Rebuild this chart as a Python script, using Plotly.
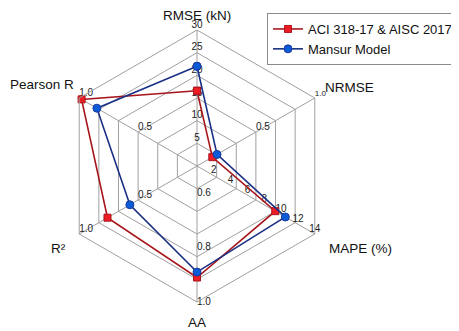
import plotly.graph_objects as go

# axes of the radar, clockwise from the top
categories = ["RMSE (kN)", "NRMSE", "MAPE (%)", "AA", "R²", "Pearson R"]
axis_min = [0, 0, 0, 0.5, 0, 0]
axis_max = [30, 1.0, 14, 1.0, 1.0, 1.0]

# series values
aci_vals = [16.6, 0.13, 9.3, 0.91, 0.76, 0.98]
mansur_vals = [22.0, 0.17, 10.5, 0.89, 0.57, 0.85]

# tick labels drawn along each spoke
rmse_ticks = [5, 10, 15, 20, 25, 30]
nrmse_ticks = [0.5, 1.0]
mape_ticks = [2, 4, 6, 8, 10, 12, 14]
aa_ticks = [0.6, 0.8, 1.0]
r2_ticks = [0.5, 1.0]
pearson_ticks = [0.5, 1.0]

# page has an 8px body margin, so the figure is shrunk and shifted by it
OFF = 8
W, H = 459 - OFF, 331 - OFF
cx, cy, R = 197, 166, 136


def px_x(x):
    return (x - OFF) / W


def px_y(y):
    return 1 - (y - OFF) / H


def norm(i, v):
    return (v - axis_min[i]) / (axis_max[i] - axis_min[i])


fig = go.Figure()
FONT = "Liberation Sans, Arial"

# tick labels (under the series)
def add_ticks(i, ticks, fmt, pos, size=10):
    fig.add_trace(go.Scatterpolar(
        r=[norm(i, t) for t in ticks],
        theta=[categories[i]] * len(ticks),
        mode="text",
        text=[fmt.format(t) for t in ticks],
        textposition=pos,
        textfont=dict(size=size, color="#222222", family=FONT),
        cliponaxis=False, hoverinfo="skip", showlegend=False))

add_ticks(0, rmse_ticks, "{:d}", "top center")
add_ticks(1, nrmse_ticks[:1], "{:.1f}", "top right")
add_ticks(1, nrmse_ticks[1:], "{:.1f}", "top right", size=8)
add_ticks(2, mape_ticks, "{:d}", "top center")
add_ticks(3, aa_ticks, "{:.1f}", "middle right")
add_ticks(4, r2_ticks, "{:.1f}", "top right")
add_ticks(5, pearson_ticks, "{:.1f}", "top right")
# "0.0" at the centre
fig.add_trace(go.Scatterpolar(
    r=[0, 0], theta=[categories[1], categories[5]], mode="text",
    text=["0.0", "0.0"], textposition="top right",
    textfont=dict(size=10, color="#222222", family=FONT),
    cliponaxis=False, hoverinfo="skip", showlegend=False))

# series
aci_r = [norm(i, v) for i, v in enumerate(aci_vals)]
man_r = [norm(i, v) for i, v in enumerate(mansur_vals)]

fig.add_trace(go.Scatterpolar(
    r=aci_r + aci_r[:1], theta=categories + categories[:1],
    mode="lines+markers", name="ACI 318-17 & AISC 2017",
    line=dict(color="#a8161c", width=1.6),
    marker=dict(symbol="square", size=7, color="#ee1c24",
                line=dict(color="#a8161c", width=1)),
    cliponaxis=False))
fig.add_trace(go.Scatterpolar(
    r=man_r + man_r[:1], theta=categories + categories[:1],
    mode="lines+markers", name="Mansur Model",
    line=dict(color="#1a2f85", width=1.6),
    marker=dict(symbol="circle", size=8, color="#0c5bd8",
                line=dict(color="#1a3a9a", width=1)),
    cliponaxis=False))

# axis titles
title_pos = [(197, 16, "center"), (323, 88, "left"), (360, 249, "center"),
             (197, 322, "center"), (58, 249, "center"), (42, 84, "center")]
for name, (px, py, anc) in zip(categories, title_pos):
    fig.add_annotation(x=px_x(px), y=px_y(py), xref="paper", yref="paper",
                       text=name, showarrow=False, xanchor=anc, yanchor="middle",
                       font=dict(size=13.5, color="#111111", family=FONT))

grid = "#a0a0a0"
fig.update_layout(
    width=W, height=H,
    margin=dict(l=0, r=0, t=0, b=0),
    paper_bgcolor="white",
    plot_bgcolor="white",
    font=dict(family=FONT, color="#111111"),
    polar=dict(
        domain=dict(x=[px_x(cx - R), px_x(cx + R)], y=[px_y(cy + R), px_y(cy - R)]),
        bgcolor="white",
        gridshape="linear",
        radialaxis=dict(range=[0, 1], tickvals=[k / 6 for k in range(1, 7)],
                        showticklabels=False, ticks="", showline=False,
                        gridcolor=grid, gridwidth=1),
        angularaxis=dict(type="category", rotation=90, direction="clockwise",
                         showticklabels=False, ticks="",
                         showline=True, linecolor=grid, linewidth=1,
                         gridcolor=grid, gridwidth=1),
    ),
    legend=dict(x=px_x(267), y=px_y(13), xanchor="left", yanchor="top",
                bordercolor="#8a8a8a", borderwidth=1, bgcolor="white",
                font=dict(size=13, color="#111111", family=FONT),
                tracegroupgap=0, itemwidth=30),
)

fig.write_html("out.html")
